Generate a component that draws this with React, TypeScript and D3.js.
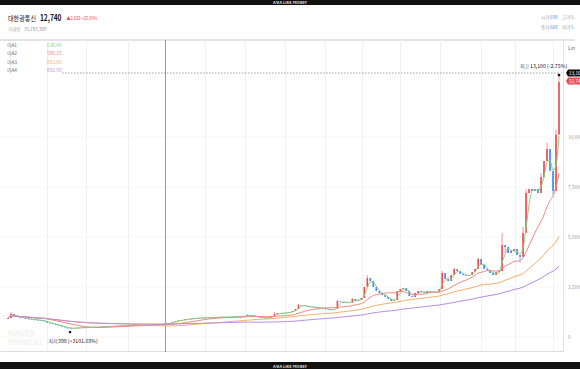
import React from "react";
import * as d3 from "d3";

// Daily-ish closing prices (left → right)
const closes = [
  950, 1150, 1050, 1000, 980, 950, 920, 900, 880, 860, 840, 820, 800, 720, 680, 650, 600, 560, 520, 480,
  450, 430, 450, 460, 470, 480, 470, 490, 480, 500, 510, 520, 530, 520, 540, 550, 540, 560, 570, 560,
  580, 590, 600, 590, 610, 600, 620, 610, 630, 620, 640, 630, 650, 680, 700, 760, 800, 830, 850, 880,
  900, 920, 930, 950, 960, 950, 970, 980, 960, 990, 1000, 980, 1010, 1000, 990, 1020, 1000, 1030, 1020, 1050,
  1100, 1080, 1040, 1000, 980, 960, 950, 980, 1050, 1150, 1200, 1180, 1200, 1220, 1250, 1300, 1400, 1600, 1580, 1550,
  1500, 1520, 1480, 1450, 1460, 1420, 1400, 1380, 1350, 1400, 1800, 1750, 1700, 1750, 1720, 1900, 1800, 1850, 1950, 2500,
  2950, 2800, 2500, 2300, 2200, 2100, 2000, 1900, 1800, 1850, 2300, 2400, 2450, 2300, 2050, 2000, 2200, 2300, 2250, 2200,
  2300, 2250, 2200, 2250, 2400, 3200, 2900, 2800, 3100, 3400, 3300, 3150, 3100, 3050, 3100, 3250, 3400, 3900, 3600, 3400,
  3350, 3200, 3100, 3250, 3300, 4600, 4500, 4200, 4300, 4400, 4100, 4000, 5200, 7200, 7400, 7300, 7400, 7200, 8000, 8800,
  9400, 8300, 7300, 10120, 12740,
];
const firstOpen = 900;
// [index, price] extremes beyond the candle bodies
const wickHighs: [number, number][] = [
  [1, 1250], [80, 1150], [89, 1250], [97, 1650], [110, 1850], [115, 1950], [120, 3100], [145, 3300],
  [149, 3450], [157, 3950], [165, 5200], [172, 5500], [173, 7400], [178, 8200], [180, 9700], [183, 10350], [184, 13100],
];
const wickLows: [number, number][] = [[20, 398], [171, 3700], [182, 7100], [166, 4200]];

const maNames = ["이A1", "이A2", "이A3", "이A4"];
const maPeriods = [3, 13, 40, 80];
const maLegendValues = ["636.40", "586.25", "553.88", "692.95"];
const maColors = ["#86cf7f", "#ef8585", "#f3ad64", "#b68ade"];

const yTicks = [0, 2500, 5000, 7500, 10000];
const yTickLabels = ["0", "2,500", "5,000", "7,500", "10,000"];
const gridX = [47, 86, 128, 205, 245, 285, 325, 362, 400, 440, 481, 515, 553];

const FONT = "'Noto Sans CJK KR', 'Noto Sans', sans-serif";

export default function App() {
  const n = closes.length;
  const x = d3.scaleLinear().domain([0, n - 1]).range([8, 559]);
  const y = d3.scaleLinear().domain([0, 10000]).range([337, 137]);

  const opens = closes.map((c, i) => (i === 0 ? firstOpen : closes[i - 1]));
  const hiMap = new Map(wickHighs);
  const loMap = new Map(wickLows);

  const mas = maPeriods.map((p) =>
    closes.map((_, i) => {
      const s = Math.max(0, i - p + 1);
      return d3.mean(closes.slice(s, i + 1)) as number;
    })
  );
  const line = d3
    .line<number>()
    .x((_, i) => x(i))
    .y((d) => y(d))
    .curve(d3.curveMonotoneX);

  const red = "#ee4b55";
  const blue = "#3f8cf0";

  return (
    <svg
      width={580}
      height={369}
      style={{ position: "absolute", left: 0, top: 0, fontFamily: FONT }}
    >
      <rect width={580} height={369} fill="#fff" />
      {/* top/bottom bars */}
      <rect x={0} y={0} width={580} height={5} fill="#111" />
      <text x={290} y={4} fontSize={4} fill="#ddd" textAnchor="middle" fontWeight="bold">ASIA LIKE MONEY</text>
      <rect x={0} y={362} width={580} height={7} fill="#111" />
      <text x={290} y={367.5} fontSize={4} fill="#ddd" textAnchor="middle" fontWeight="bold">ASIA LIKE MONEY</text>

      {/* header */}
      <text x={8} y={20.5} fontSize={7} fill="#222" textLength={28} lengthAdjust="spacingAndGlyphs">대한광통신</text>
      <text x={40} y={21} fontSize={9} fontWeight="bold" fill="#111" textLength={21.5} lengthAdjust="spacingAndGlyphs">12,740</text>
      <text x={66.5} y={20} fontSize={5} fill={red} textLength={31} lengthAdjust="spacingAndGlyphs">▲2,620 +25.89%</text>
      <text x={8} y={31} fontSize={4.5} fill="#aaa">거래량</text>
      <text x={24} y={31} fontSize={4.5} fill="#888">75,787,389</text>

      <text x={541} y={19} fontSize={4.5} fill="#999">시가</text>
      <text x={550} y={19} fontSize={4.5} fill="#3f8cf0">698</text>
      <text x={562} y={19} fontSize={4.5} fill="#999">고가</text>
      <text x={571} y={19} fontSize={4.5} fill="#3f8cf0">5</text>
      <text x={541} y={29} fontSize={4.5} fill="#999">종가</text>
      <text x={550} y={29} fontSize={4.5} fill="#3f8cf0">668</text>
      <text x={562} y={29} fontSize={4.5} fill="#999">저가</text>
      <text x={571} y={29} fontSize={4.5} fill="#3f8cf0">5</text>

      {/* frame */}
      <line x1={0} x2={575} y1={40} y2={40} stroke="#c8c8c8" strokeWidth={1} />
      <line x1={563.5} x2={563.5} y1={40} y2={352} stroke="#e4e4e4" />
      <line x1={0} x2={564} y1={351.5} y2={351.5} stroke="#dcdcdc" />
      {gridX.map((gx) => (
        <line key={gx} x1={gx + 0.5} x2={gx + 0.5} y1={40} y2={351} stroke="#f0f0f0" />
      ))}
      {yTicks.map((t, i) => (
        <g key={t}>
          <line x1={0} x2={563} y1={y(t)} y2={y(t)} stroke="#f6f6f6" />
          <text x={568} y={y(t) + 2} fontSize={4.8} fill="#999">{yTickLabels[i]}</text>
        </g>
      ))}
      <text x={568} y={50} fontSize={5} fill="#666">Lin</text>

      {/* watermark */}
      <text x={8} y={335.5} fontSize={8} fontWeight="bold" fill="#f2f2f2" fontFamily="'Noto Sans', sans-serif">NAVER</text>
      <text x={8} y={345} fontSize={8} fontWeight="bold" fill="#f2f2f2" fontFamily="'Noto Sans', sans-serif" textLength={35} lengthAdjust="spacingAndGlyphs">FINANCIAL</text>

      {/* crosshair */}
      <line x1={165.5} x2={165.5} y1={40} y2={352} stroke="#9a9a9a" strokeWidth={1} />
      <line x1={62} x2={559} y1={73} y2={73} stroke="#888" strokeDasharray="1.5,1.5" strokeWidth={0.8} />

      {/* candles */}
      {closes.map((c, i) => {
        const o = opens[i];
        const up = c >= o;
        const col = up ? red : blue;
        const hi = Math.max(o, c, hiMap.get(i) ?? 0);
        const lo = Math.min(o, c, loMap.get(i) ?? Infinity);
        const top = y(Math.max(o, c));
        const h = Math.max(0.8, y(Math.min(o, c)) - top);
        return (
          <g key={i}>
            <line x1={x(i)} x2={x(i)} y1={y(hi)} y2={y(lo)} stroke={col} strokeWidth={0.6} />
            <rect x={x(i) - 0.8} y={top} width={1.6} height={h} fill={col} />
          </g>
        );
      })}

      {/* moving averages */}
      {mas.map((m, k) => (
        <path key={k} d={line(m) || ""} fill="none" stroke={maColors[k]} strokeWidth={1} />
      ))}

      {/* legend */}
      {maNames.map((nm, k) => (
        <g key={nm}>
          <text x={7} y={47 + k * 8.3} fontSize={4.8} fill="#666">{nm}</text>
          <text x={47} y={47 + k * 8.3} fontSize={4.8} fill={maColors[k]}>{maLegendValues[k]}</text>
        </g>
      ))}

      {/* high / low annotations */}
      <rect x={x(n - 1) - 1.2} y={y(13100) - 1.2} width={2.4} height={2.4} fill="#111" />
      <text x={520} y={68} fontSize={5} fill="#555">최고</text>
      <text x={530} y={68} fontSize={5.2} fill="#222">13,100 (-2.75%)</text>
      <rect x={x(20) + 1} y={y(398) + 2} width={2.2} height={2.2} fill="#111" />
      <text x={48.5} y={343} fontSize={5} fill="#555">최저</text>
      <text x={58} y={343} fontSize={5.2} fill="#222">398 (+3101.03%)</text>

      {/* price tags */}
      <path d="M566,73 L568,69.5 L580,69.5 L580,76.5 L568,76.5 Z" fill="#111" />
      <text x={569} y={75} fontSize={4.6} fill="#fff">13,100</text>
      <path d="M566,81 L568,77.5 L580,77.5 L580,84.5 L568,84.5 Z" fill={red} />
      <text x={569} y={83} fontSize={4.6} fill="#fff">12,740</text>
    </svg>
  );
}
